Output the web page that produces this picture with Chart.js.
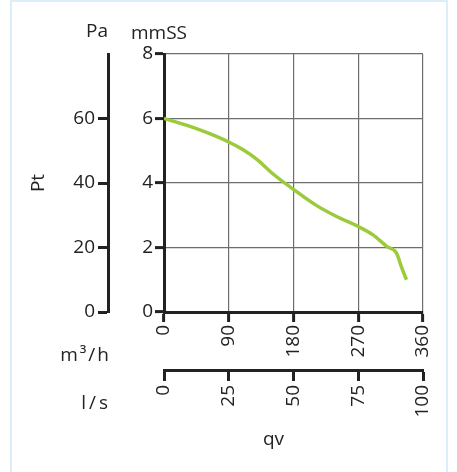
<!DOCTYPE html>
<html>
<head>
<meta charset="utf-8">
<script src="https://cdn.jsdelivr.net/npm/chart.js@4"></script>
<style>
  body { margin: 0; background: #fff; font-family: "Open Sans", sans-serif; color: #222; }
  #wrap { position: relative; width: 457px; height: 472px; overflow: hidden; }
  #frame { position: absolute; left: 10px; top: 0; width: 434px; height: 480px; border: 2px solid #dceefa; }
  .lbl { position: absolute; font-size: 19px; line-height: 19px; white-space: nowrap; }
</style>
</head>
<body>
<div id="wrap">
  <div id="frame"></div>
  <canvas id="curva"></canvas>
  <div class="lbl" style="right:349px; top:21px;">Pa</div>
  <div class="lbl" style="left:131px; top:23px;">mmSS</div>
  <div class="lbl" style="right:346px; top:345px; letter-spacing:2px;">m³/h</div>
  <div class="lbl" style="right:346px; top:393px; letter-spacing:3px;">l/s</div>
  <div class="lbl" style="left:263px; top:429px;">qv</div>
</div>
<script>
// portata (m3/h) e pressione totale (mmSS)
var portata = [0, 30, 60, 90, 110, 130, 150, 180, 210, 240, 270, 290, 310, 323, 330, 337];
var pressione = [6.0, 5.8, 5.56, 5.27, 5.03, 4.72, 4.31, 3.8, 3.33, 2.96, 2.65, 2.4, 2.03, 1.83, 1.4, 1.0];

var ticksM3h = [0, 90, 180, 270, 360];
var ticksLs = [0, 25, 50, 75, 100];
var ticksMmss = [0, 2, 4, 6, 8];
var ticksPa = [0, 20, 40, 60];

var nero = "#222";
var griglia = "#6e6e6e";
var font = { family: "Open Sans", size: 19 };

function fisso(lista) {
  return function (scale) {
    scale.ticks = lista.map(function (v) { return { value: v }; });
  };
}

var ctx = document.getElementById("curva").getContext("2d");
var chart = new Chart(ctx, {
  type: "line",
  data: {
    datasets: [
      {
        data: portata.map(function (q, i) { return { x: q, y: pressione[i] }; }),
        borderColor: "#9bcb3b",
        borderWidth: 3.5,
        pointRadius: 0,
        cubicInterpolationMode: "monotone",
        xAxisID: "x",
        yAxisID: "y",
      },
    ],
  },
  options: {
    responsive: true,
    maintainAspectRatio: false,
    animation: false,
    layout: { padding: { left: 0, top: 54, right: 34, bottom: 0 } },
    plugins: { legend: { display: false }, tooltip: { enabled: false } },
    scales: {
      x: {
        type: "linear",
        position: "bottom",
        min: 0,
        max: 360,
        afterBuildTicks: fisso(ticksM3h),
        afterFit: function (s) { s.height = 58; },
        border: { display: true, color: nero, width: 3 },
        grid: { color: griglia, lineWidth: 1.2, tickColor: nero, tickWidth: 3, tickLength: 10 },
        ticks: { color: nero, font: font, minRotation: 90, maxRotation: 90, padding: 3 },
      },
      x2: {
        type: "linear",
        position: "bottom",
        min: 0,
        max: 100,
        afterBuildTicks: fisso(ticksLs),
        afterFit: function (s) { s.height = 102; },
        border: { display: true, color: nero, width: 3 },
        grid: { drawOnChartArea: false, tickColor: nero, tickWidth: 3, tickLength: 11 },
        ticks: { color: nero, font: font, minRotation: 90, maxRotation: 90, padding: 4 },
      },
      y: {
        position: "left",
        min: 0,
        max: 8,
        afterBuildTicks: fisso(ticksMmss),
        afterFit: function (s) { s.width = 56; },
        border: { display: true, color: nero, width: 3 },
        grid: { color: griglia, lineWidth: 1.2, tickColor: nero, tickWidth: 3, tickLength: 9 },
        ticks: { color: nero, font: font, padding: 2 },
      },
      pa: {
        position: "left",
        min: 0,
        max: 80,
        afterBuildTicks: fisso(ticksPa),
        afterFit: function (s) { s.width = 108; },
        border: { display: true, color: nero, width: 3 },
        grid: { drawOnChartArea: false, tickColor: nero, tickWidth: 3, tickLength: 10 },
        ticks: { color: nero, font: font, padding: 3 },
        title: { display: true, text: "Pt", color: nero, font: font, padding: { top: 27, bottom: 0 } },
      },
    },
  },
});
</script>
</body>
</html>
